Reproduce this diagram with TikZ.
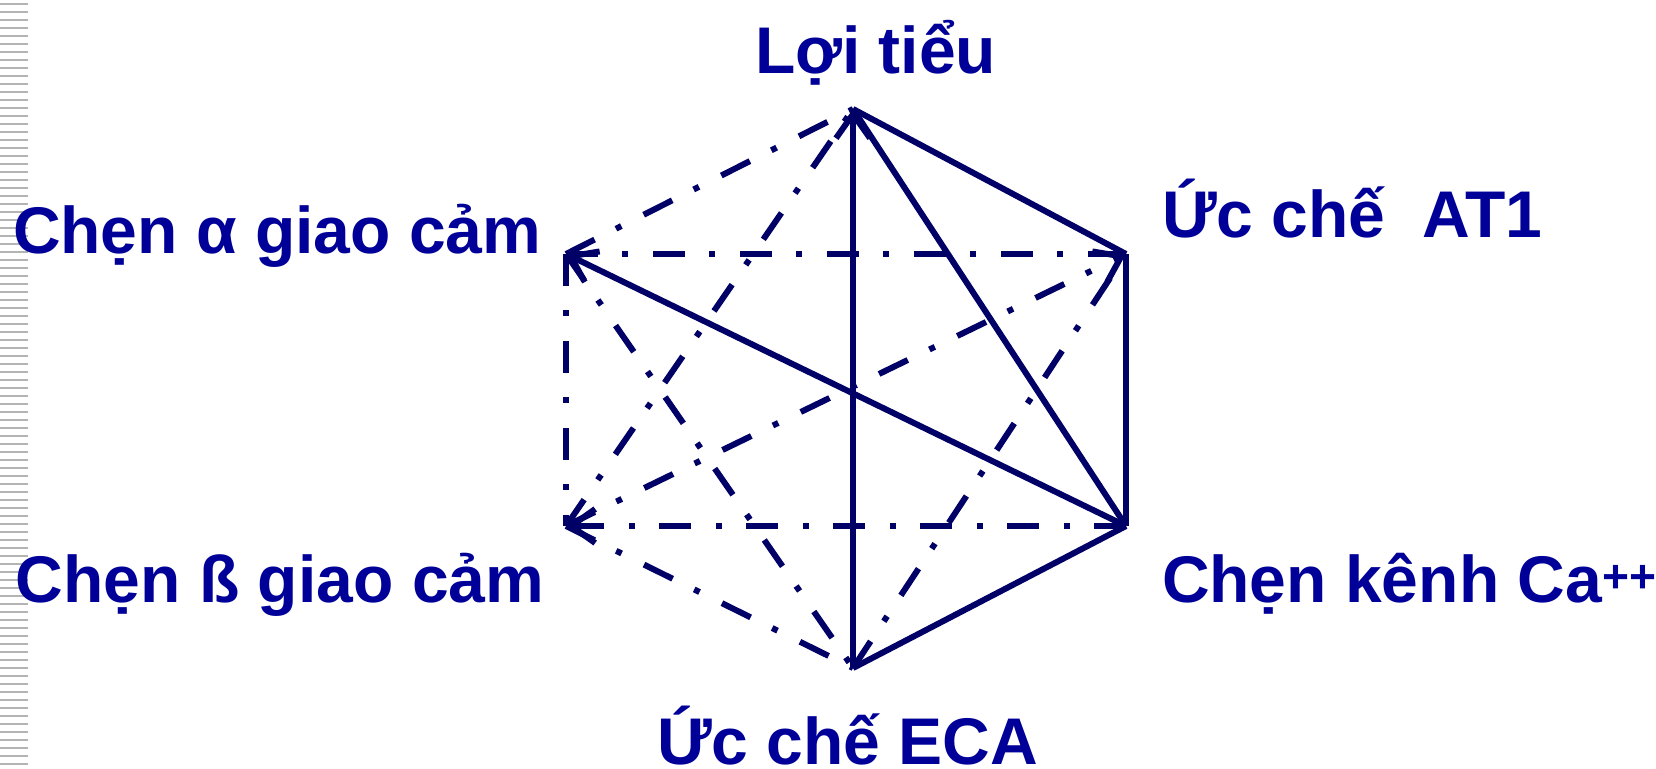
\documentclass[tikz,border=0pt]{standalone}
\usepackage{fontspec}
\setmainfont{Liberation Sans}
\usetikzlibrary{arrows.meta}
\definecolor{txtblue}{HTML}{000099}
\definecolor{linenavy}{HTML}{000066}
\definecolor{stripe}{HTML}{B4B4B4}
\tikzset{
  lbl/.style={anchor=base west,inner sep=0pt,outer sep=0pt,text=txtblue,font=\fontsize{66}{70}\selectfont\bfseries},
  edge/.style={draw=linenavy,line width=6pt,line cap=butt,line join=miter},
  dd/.style={edge,dash pattern=on 32pt off 24pt on 6pt off 25pt},
  tip/.style={-{Straight Barb[length=24pt,width=34pt]}},
}
\begin{document}
\begin{tikzpicture}[x=1pt,y=-1pt]
\useasboundingbox (0,0) rectangle (1656,768);
% left margin stripes
\foreach \i in {0,...,95}{
  \draw[stripe,line width=2.4pt] (0,{4+8*\i}) -- (28,{4+8*\i});
}
% vertices
\coordinate (T) at (853,109);
\coordinate (UR) at (1126,254);
\coordinate (LR) at (1126,526);
\coordinate (B) at (853,668);
\coordinate (LL) at (566,526);
\coordinate (UL) at (566,254);
% labels
\node[lbl] (lt) at (755,74) {Lợi tiểu};
\node[lbl] (at1) at (1162,237) {Ức chế\ \ AT1};
\node[lbl] (alpha) at (13,253) {Chẹn α giao cảm};
\node[lbl] (beta) at (16,602) {Chẹn ß giao cảm};
\node[lbl] (ca) at (1162,602) {Chẹn kênh Ca\textsuperscript{++}};
\node[lbl] (eca) at (657,764) {Ức chế ECA};
% dash-dot edges
\draw[dd] (UL) -- (T);
\draw[dd] (UL) -- (UR);
\draw[dd] (UL) -- (LL);
\draw[dd] (UL) -- (B);
\draw[dd] (LL) -- (T);
\draw[dd,tip] (LL) -- (UR);
\draw[dd,tip] (LR) -- (LL);
\draw[dd] (LL) -- (B);
\draw[dd] (B) -- (UR);
% solid edges
\draw[edge] (T) -- (UR);
\draw[edge] (T) -- (LR);
\draw[edge,tip] (B) -- (T);
\draw[edge] (UR) -- (LR);
\draw[edge] (LR) -- (B);
\draw[edge,tip] (LR) -- (UL);
\end{tikzpicture}
\end{document}
